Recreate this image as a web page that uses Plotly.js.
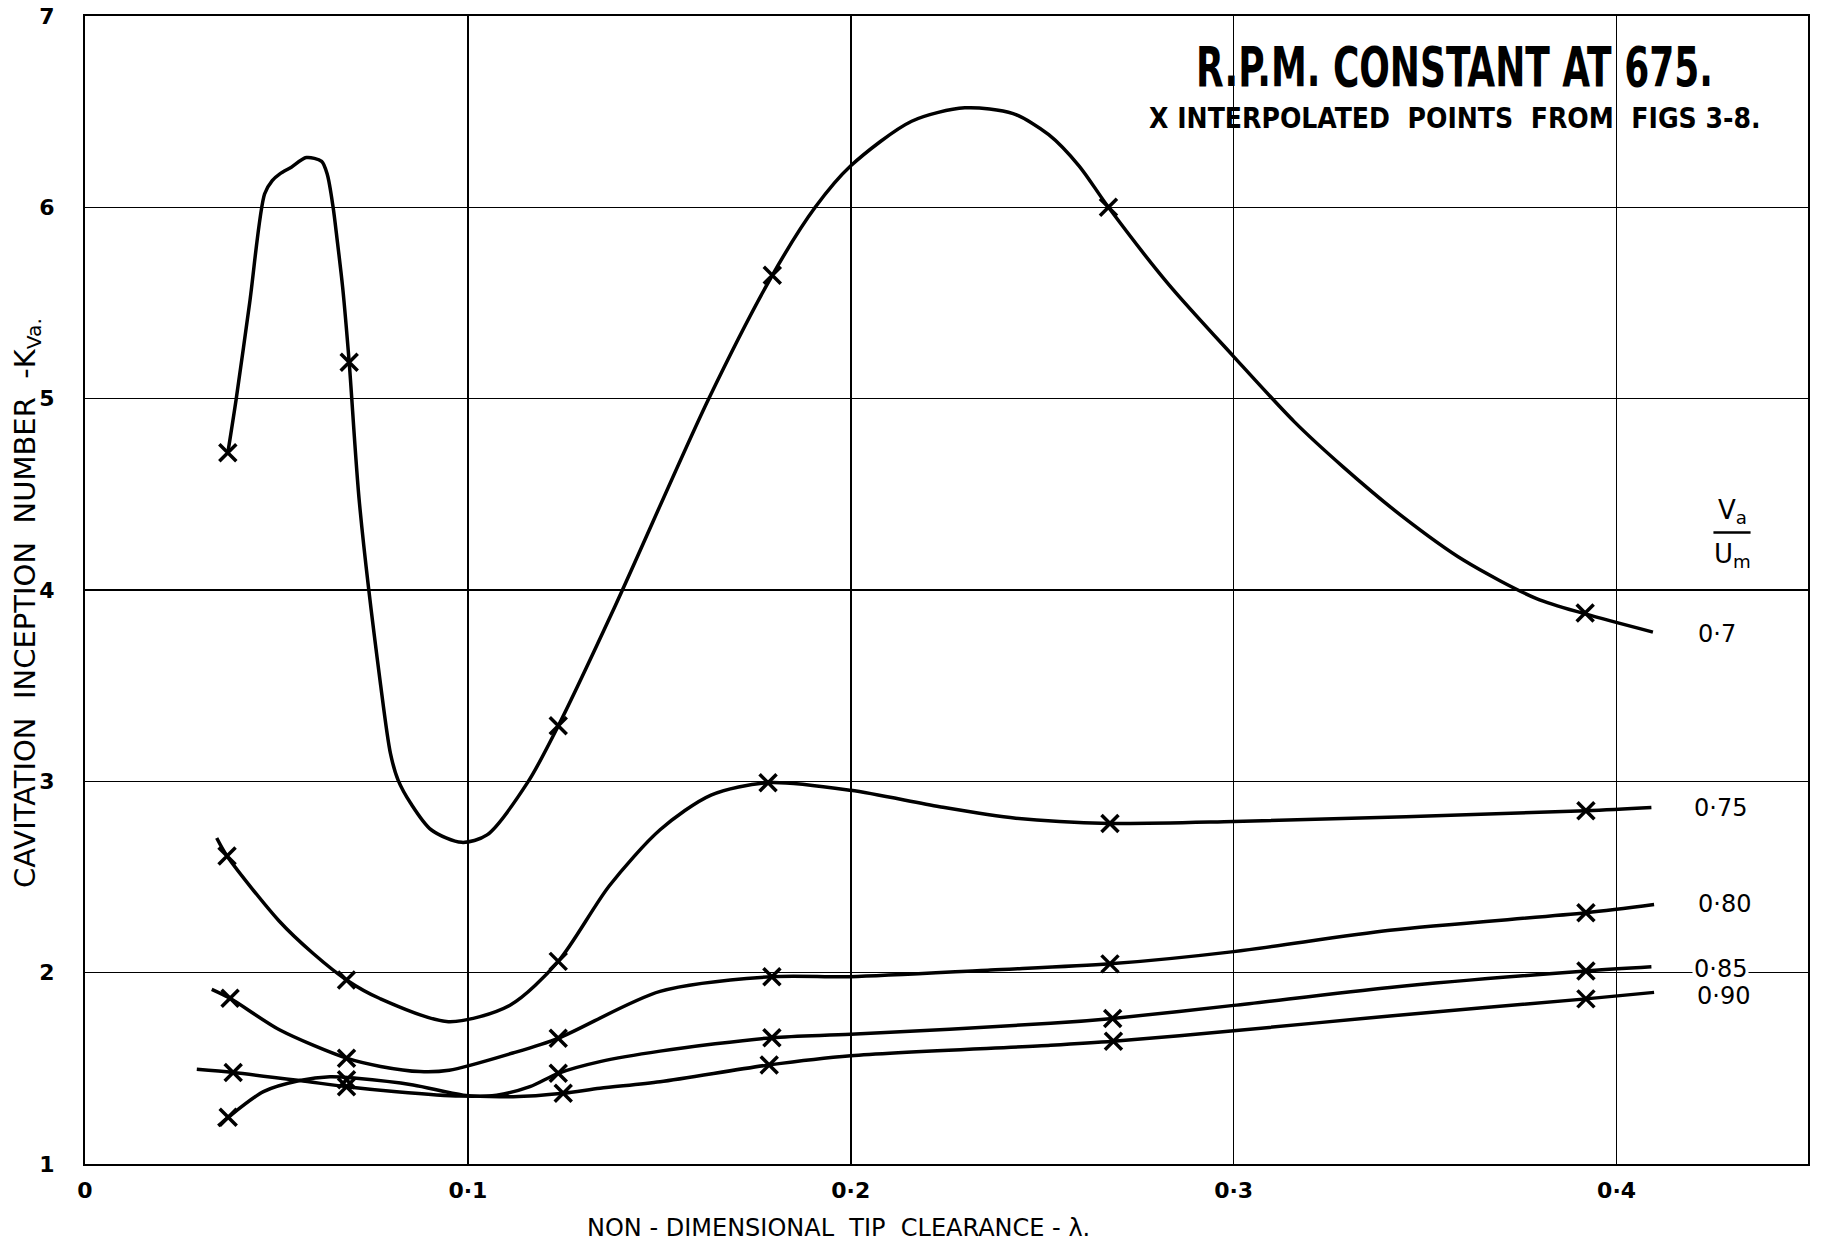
<!DOCTYPE html>
<html><head><meta charset="utf-8">
<script src="https://cdn.plot.ly/plotly-3.0.1.min.js"></script>
<style>html,body{margin:0;padding:0;background:#fff}#chart{width:1825px;height:1248px}</style>
</head><body><div id="chart"></div>
<script>
// ---- axis ticks ----
const xTickVals = [0, 0.1, 0.2, 0.3, 0.4];
const xTickText = ["0", "0·1", "0·2", "0·3", "0·4"];
const yTickVals = [1, 2, 3, 4, 5, 6, 7];
const yTickText = ["1", "2", "3", "4", "5", "6", "7"];
const seriesNames = ["0·7", "0·75", "0·80", "0·85", "0·90"];

// ---- interpolated points (X marks) ----
const pts070X = [0.0373, 0.069, 0.1236, 0.1795, 0.2673, 0.3918];
const pts070Y = [4.717, 5.19, 3.29, 5.645, 6.0, 3.88];
const pts075X = [0.0371, 0.0683, 0.1236, 0.1784, 0.2677, 0.392];
const pts075Y = [2.61, 1.962, 2.059, 2.993, 2.78, 2.846];
const pts080X = [0.0379, 0.0683, 0.1236, 0.1794, 0.2677, 0.392];
const pts080Y = [1.866, 1.553, 1.657, 1.979, 2.046, 2.313];
const pts085X = [0.0387, 0.0683, 0.1236, 0.1794, 0.2684, 0.392];
const pts085Y = [1.478, 1.404, 1.474, 1.66, 1.761, 2.009];
const pts090X = [0.0374, 0.0683, 0.1249, 0.1787, 0.2686, 0.392];
const pts090Y = [1.244, 1.44, 1.37, 1.518, 1.641, 1.863];

// ---- faired curves ----
const curve070X = [0.0373, 0.0395, 0.043, 0.0469, 0.0489, 0.0509, 0.0539, 0.0578, 0.0618, 0.0633, 0.0648, 0.0658, 0.0673, 0.069, 0.0717, 0.0772, 0.0798, 0.0818, 0.0851, 0.0904, 0.0984, 0.105, 0.1157, 0.1236, 0.1384, 0.1629, 0.1795, 0.1907, 0.2, 0.2159, 0.2298, 0.2424, 0.2517, 0.2596, 0.2673, 0.2829, 0.3, 0.3158, 0.3285, 0.3437, 0.3601, 0.3791, 0.3918, 0.4095];
const curve070Y = [4.717, 5.0, 5.5, 6.07, 6.14, 6.175, 6.21, 6.26, 6.24, 6.17, 6.0, 5.84, 5.58, 5.19, 4.45, 3.505, 3.143, 3.005, 2.884, 2.747, 2.681, 2.72, 2.997, 3.29, 3.914, 5.0, 5.645, 6.0, 6.217, 6.45, 6.52, 6.49, 6.38, 6.217, 6.0, 5.6, 5.22, 4.88, 4.645, 4.39, 4.155, 3.955, 3.875, 3.78];
const curve075X = [0.0344, 0.0371, 0.0507, 0.0596, 0.0683, 0.077, 0.0949, 0.111, 0.1236, 0.1369, 0.1502, 0.1635, 0.1784, 0.2, 0.2232, 0.2431, 0.2677, 0.3, 0.392, 0.4091];
const curve075Y = [2.704, 2.61, 2.27, 2.1, 1.962, 1.865, 1.744, 1.83, 2.059, 2.453, 2.747, 2.928, 2.993, 2.953, 2.867, 2.807, 2.78, 2.79, 2.846, 2.863];
const curve080X = [0.0331, 0.0379, 0.0509, 0.0683, 0.0772, 0.0875, 0.0951, 0.1117, 0.1236, 0.1502, 0.1794, 0.2, 0.2365, 0.2677, 0.3, 0.3408, 0.392, 0.4098];
const curve080Y = [1.913, 1.866, 1.7, 1.553, 1.51, 1.483, 1.49, 1.58, 1.657, 1.902, 1.979, 1.979, 2.014, 2.046, 2.11, 2.222, 2.313, 2.356];
const curve085X = [0.0292, 0.0387, 0.0561, 0.0683, 0.0814, 0.0979, 0.1075, 0.1162, 0.1236, 0.1345, 0.1502, 0.1794, 0.2, 0.2522, 0.2684, 0.3, 0.3408, 0.392, 0.4091];
const curve085Y = [1.495, 1.478, 1.436, 1.404, 1.378, 1.355, 1.36, 1.404, 1.474, 1.535, 1.59, 1.66, 1.678, 1.735, 1.761, 1.829, 1.923, 2.009, 2.031];
const curve090X = [0.0348, 0.0374, 0.0466, 0.0561, 0.064, 0.0709, 0.0857, 0.0988, 0.1118, 0.1249, 0.1345, 0.1502, 0.1787, 0.2, 0.2522, 0.2686, 0.3, 0.3408, 0.392, 0.4098];
const curve090Y = [1.199, 1.244, 1.378, 1.436, 1.456, 1.448, 1.413, 1.36, 1.352, 1.37, 1.396, 1.43, 1.518, 1.566, 1.62, 1.641, 1.696, 1.774, 1.863, 1.897];

const curvesX = [curve070X, curve075X, curve080X, curve085X, curve090X];
const curvesY = [curve070Y, curve075Y, curve080Y, curve085Y, curve090Y];
const ptsX = [pts070X, pts075X, pts080X, pts085X, pts090X];
const ptsY = [pts070Y, pts075Y, pts080Y, pts085Y, pts090Y];

const traces = [];
for (let i = 0; i < seriesNames.length; i++) {
  traces.push({
    x: curvesX[i], y: curvesY[i], type: 'scatter', mode: 'lines',
    name: seriesNames[i], showlegend: false, hoverinfo: 'skip',
    line: {color: '#000', width: 3.5, shape: 'spline', smoothing: 0.8}
  });
  traces.push({
    x: ptsX[i], y: ptsY[i], type: 'scatter', mode: 'markers',
    name: seriesNames[i] + ' points', showlegend: false,
    marker: {symbol: 'x-thin', size: 17, color: '#000', line: {color: '#000', width: 3.5}}
  });
}

const FONT = 'DejaVu Sans, Liberation Sans, sans-serif';
const NARROW = 'Liberation Sans Narrow, DejaVu Sans Condensed, Liberation Sans, sans-serif';
const labelX = [0.4262, 0.4272, 0.4282, 0.4272, 0.4278];
const labelY = [3.77, 2.86, 2.36, 2.02, 1.88];
const annotations = seriesNames.map((n, i) => ({
  x: labelX[i], y: labelY[i], xref: 'x', yref: 'y', text: n, showarrow: false,
  xanchor: 'center', yanchor: 'middle', bgcolor: '#fff',
  font: {family: FONT, size: 24, color: '#000'}
}));
annotations.push(
  {x: 0.4302, y: 4.41, xref: 'x', yref: 'y', text: 'V<sub>a</sub>', showarrow: false,
   xanchor: 'center', yanchor: 'middle', font: {family: FONT, size: 26, color: '#000'}},
  {x: 0.4302, y: 4.18, xref: 'x', yref: 'y', text: 'U<sub>m</sub>', showarrow: false,
   xanchor: 'center', yanchor: 'middle', font: {family: FONT, size: 26, color: '#000'}},
  {x: 0.795, y: 0.911, xref: 'paper', yref: 'paper', showarrow: false,
   text: 'X INTERPOLATED\u00A0 POINTS\u00A0 FROM\u00A0 FIGS 3-8.',
   xanchor: 'center', yanchor: 'middle', font: {family: NARROW, size: 28, color: '#000', weight: 'bold'}},
  {x: -0.0337, y: 0.4887, xref: 'paper', yref: 'paper', showarrow: false, textangle: -90,
   text: 'CAVITATION\u00A0 INCEPTION\u00A0 NUMBER\u00A0 -K<sub>Va.</sub>',
   xanchor: 'center', yanchor: 'middle', font: {family: FONT, size: 29, color: '#000'}},
  {x: 0.4376, y: -0.0557, xref: 'paper', yref: 'paper', showarrow: false,
   text: 'NON - DIMENSIONAL\u00A0 TIP\u00A0 CLEARANCE - λ.',
   xanchor: 'center', yanchor: 'middle', font: {family: FONT, size: 24, color: '#000'}}
);

const layout = {
  width: 1825, height: 1248,
  margin: {l: 85, r: 17, t: 16, b: 84},
  paper_bgcolor: '#fff', plot_bgcolor: '#fff',
  showlegend: false,
  title: {text: 'R.P.M. CONSTANT AT 675.', x: 0.797, xanchor: 'center', y: 0.947, yanchor: 'middle',
          font: {family: NARROW, size: 40, color: '#000', weight: 'bold'}},
  xaxis: {
    range: [0, 0.45], tickvals: xTickVals, ticktext: xTickText,
    showgrid: true, gridcolor: '#000', gridwidth: 1.6, zeroline: false,
    showline: true, linecolor: '#000', linewidth: 2, mirror: true,
    ticks: '', ticklabelstandoff: 6,
    tickfont: {family: FONT, size: 22, color: '#000', weight: 'bold'}
  },
  yaxis: {
    range: [1, 7], tickvals: yTickVals, ticktext: yTickText,
    showgrid: true, gridcolor: '#000', gridwidth: 1.6, zeroline: false,
    showline: true, linecolor: '#000', linewidth: 2, mirror: true,
    ticks: '', ticklabelstandoff: 24,
    tickfont: {family: FONT, size: 22, color: '#000', weight: 'bold'}
  },
  shapes: [
    {type: 'line', xref: 'x', yref: 'y', x0: 0.4253, x1: 0.4350, y0: 4.30, y1: 4.30,
     line: {color: '#000', width: 2.5}}
  ],
  annotations: annotations
};

Plotly.newPlot('chart', traces, layout, {displayModeBar: false, staticPlot: true}).then(gd => {
  // the drafted title lettering is tall and narrow: stretch it vertically
  const t = gd.querySelector('.gtitle');
  if (t) {
    t.style.transformBox = 'fill-box';
    t.style.transformOrigin = 'center';
    t.style.transform = 'scaleY(1.4)';
  }
});
</script>
</body></html>
